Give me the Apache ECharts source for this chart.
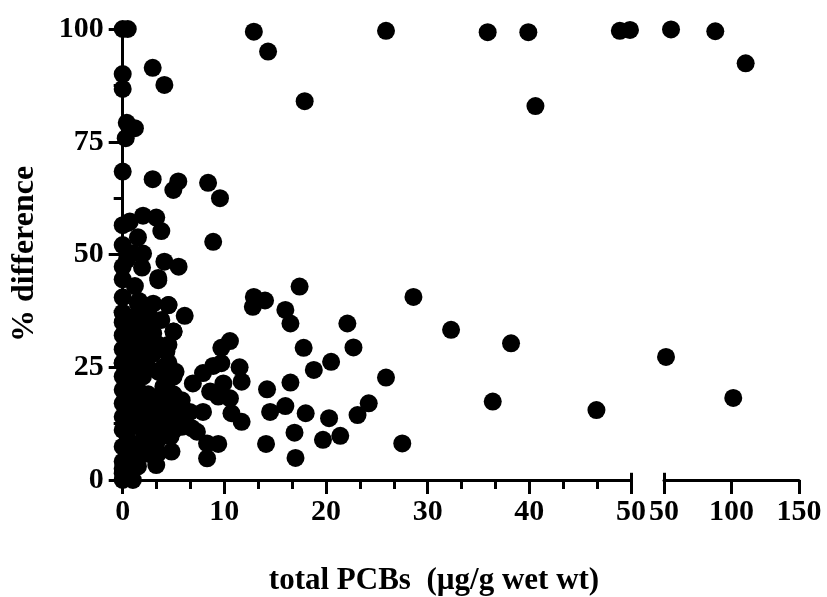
<!DOCTYPE html>
<html>
<head>
<meta charset="utf-8">
<script src="https://cdn.jsdelivr.net/npm/echarts@6/dist/echarts.min.js"></script>
<style>
html,body{margin:0;padding:0;background:#fff;}
#chart{width:827px;height:597px;}
</style>
</head>
<body>
<div id="chart"></div>
<script>
// ---- data: total PCBs (µg/g wet wt) vs % difference ----
// left axis segment (0–50)
var pcbLow = [
  0, 0.5, 12.9, 14.3, 25.9, 35.9, 39.9, 48.9, 49.9, 2.95, 4.1, 0, 0, 17.9, 40.6,
  0.4, 1.2, 0.3, 0, 2.95, 5.47, 4.98, 8.4, 9.57, 8.9, 17.4, 28.6, 12.9, 14.0,
  12.8, 16.0, 16.5, 22.1, 22.7, 17.8, 20.5, 18.8, 25.9, 16.5, 14.2, 16.0, 14.5,
  18.0, 20.3, 24.2, 23.1, 21.4, 19.7, 16.9, 17.0, 14.1, 27.5, 32.3, 38.2, 36.4,
  46.6, 10.55, 9.7, 11.5, 11.7, 9.7, 8.9, 7.9, 6.9, 9.9, 8.6, 9.4, 10.55, 7.9,
  10.7, 11.7, 6.8, 7.3, 8.3, 9.4, 8.3, 6.1, 5.0, 4.5, 4.8, 3.3, 3.5,
  0.7, 2.0, 3.3, 3.8, 1.5, 0, 2.0, 1.0, 0, 1.9, 4.1, 5.5, 3.5, 0, 0.4,
  0, 1.6, 3.0, 4.5, 0, 2.7, 5.0, 0, 3.0, 4.3, 0, 1.0, 5.0, 0, 4.3, 5.8, 6.6,
  0, 5.8, 4.7, 0, 2.4, 0, 0, 1.0,
  0, 0, 0, 0, 0, 0, 0, 0, 0,
  0.5, 0.5, 0.5, 0.5, 0.5, 0.5, 0.5, 0.5, 0.5, 0.5, 0.5, 0.5,
  1.0, 1.0, 1.0, 1.0, 1.0, 1.0, 1.0, 1.0, 1.0,
  1.5, 1.5, 1.5, 1.5, 1.5, 1.5, 1.5,
  2.0, 2.0, 2.0, 2.0, 2.0, 2.0, 2.0,
  2.5, 2.5, 2.5, 2.5, 2.5, 2.5, 2.5,
  3.0, 3.0, 3.0, 3.0, 3.0,
  3.5, 3.5, 3.5, 3.5, 3.5,
  4.0, 4.0, 4.0, 4.0,
  4.5, 4.5, 4.5, 4.5,
  5.0, 5.0, 5.5, 6.0,
  1.5, 3.5, 4.0, 5.0, 5.2, 4.5, 3.8, 1.2
];
var diffLow = [
  100, 100, 99.4, 95.0, 99.6, 99.3, 99.3, 99.6, 99.8, 91.4, 87.6, 86.7, 68.4, 84.0, 82.9,
  79.2, 78.0, 75.8, 90.0, 66.7, 66.2, 64.3, 65.9, 62.5, 52.8, 42.9, 40.6, 40.6, 39.8,
  38.4, 37.7, 34.7, 34.7, 29.4, 29.3, 26.2, 24.4, 22.7, 21.6, 20.1, 16.4, 15.1,
  14.8, 13.7, 17.0, 14.4, 9.8, 8.9, 10.5, 4.9, 8.0, 8.1, 33.3, 30.3, 17.4,
  15.5, 30.8, 29.3, 25.0, 21.8, 25.9, 25.3, 23.7, 21.4, 21.4, 19.6, 18.5, 18.1, 15.1,
  14.8, 12.9, 11.5, 10.7, 8.1, 8.0, 4.8, 36.4, 32.9, 38.8, 6.3, 3.3, 44.3,
  57.3, 58.6, 58.2, 55.2, 53.8, 52.1, 50.2, 50.3, 47.3, 47.1, 48.4, 47.3, 44.8, 44.5, 48.8,
  40.5, 39.7, 39.1, 38.8, 37.1, 34.6, 32.9, 32.1, 32.5, 28.5, 25.9, 29.6, 22.9, 20.0, 20.7, 17.7, 15.1,
  11.1, 11.8, 9.6, 7.4, 5.9, 4.1, 0, 0,
  14, 17, 23, 26, 29, 35, 1.5, 2.5, 56.5,
  1, 9, 13, 16, 19, 22, 25, 28, 31, 34, 50, 57,
  5, 12, 18, 21, 24, 27, 30, 33, 36,
  8, 15, 20, 26, 29, 35, 39,
  6, 11, 14, 17, 23, 27, 31,
  5.9, 10, 13, 19, 25, 33, 37,
  8, 12, 16, 28, 30,
  9, 14, 18, 24, 30,
  11, 16, 20.7, 25,
  13, 17, 22.9, 26,
  19, 15, 17.7, 14,
  3, 6, 13.5, 11, 24, 30, 35.5, 43
];
// right axis segment (50–150)
var pcbHigh = [51.5, 101.3, 55.2, 88.0, 110.5];
var diffHigh = [27.3, 18.2, 99.9, 99.5, 92.4];

// axis ticks
var yTicks = [0, 25, 50, 75, 100];
var xTicksLow = [0, 10, 20, 30, 40, 50];
var xTicksHigh = [50, 100, 150];

function pairs(xs, ys) {
  var out = [];
  for (var i = 0; i < xs.length; i++) out.push([xs[i], ys[i]]);
  return out;
}

var FONT = '"Liberation Serif", "Times New Roman", serif';
var labelStyle = {color: '#000', fontFamily: FONT, fontWeight: 'bold', fontSize: 30};
var lineStyle = {color: '#000', width: 3};
var yMin = yTicks[0], yMax = yTicks[yTicks.length - 1];
var xLowMin = xTicksLow[0], xLowMax = xTicksLow[xTicksLow.length - 1];

var chart = echarts.init(document.getElementById('chart'), null, {renderer: 'canvas'});
chart.setOption({
  animation: false,
  backgroundColor: '#fff',
  grid: [
    {left: 122.7, top: 29, width: 508.3, height: 451},
    {left: 664, top: 29, width: 135, height: 451}
  ],
  xAxis: [
    { // major ticks + labels, left segment
      type: 'value', gridIndex: 0, min: xLowMin, max: xLowMax, interval: 10, z: 3,
      axisLine: {show: true, lineStyle: lineStyle},
      axisTick: {show: true, length: 14, lineStyle: lineStyle},
      axisLabel: Object.assign({margin: 17}, labelStyle),
      splitLine: {show: false}
    },
    { // right segment
      type: 'value', gridIndex: 1, min: xTicksHigh[0], max: xTicksHigh[xTicksHigh.length - 1], interval: 50,
      axisLine: {show: true, lineStyle: lineStyle},
      axisTick: {show: true, length: 14, lineStyle: lineStyle},
      axisLabel: Object.assign({margin: 17}, labelStyle),
      splitLine: {show: false}
    },
    { // minor ticks, left segment
      type: 'value', gridIndex: 0, min: xLowMin, max: xLowMax, interval: 10 / 3, position: 'bottom',
      axisLine: {show: false},
      axisTick: {show: true, length: 9, lineStyle: lineStyle},
      axisLabel: {show: false},
      splitLine: {show: false}
    }
  ],
  yAxis: [
    {
      type: 'value', gridIndex: 0, min: yMin, max: yMax, interval: 25, z: 3,
      axisLine: {show: true, lineStyle: lineStyle},
      axisTick: {show: true, length: 14, lineStyle: lineStyle},
      axisLabel: Object.assign({margin: 19}, labelStyle),
      splitLine: {show: false}
    },
    {
      type: 'value', gridIndex: 1, min: yMin, max: yMax, interval: 25,
      axisLine: {show: false}, axisTick: {show: false}, axisLabel: {show: false},
      splitLine: {show: false}
    },
    { // minor ticks
      type: 'value', gridIndex: 0, min: yMin, max: yMax, interval: 12.5, position: 'left',
      axisLine: {show: false},
      axisTick: {show: true, length: 9, lineStyle: lineStyle},
      axisLabel: {show: false},
      splitLine: {show: false}
    }
  ],
  graphic: [
    {
      type: 'text', x: 434, y: 581,
      style: {text: 'total PCBs  (\u00b5g/g wet wt)', fill: '#000', fontFamily: FONT, fontWeight: 'bold',
              fontSize: 31, align: 'center', verticalAlign: 'middle'}
    },
    {
      type: 'text', x: 25, y: 254, rotation: Math.PI / 2,
      style: {text: '% difference', fill: '#000', fontFamily: FONT, fontWeight: 'bold',
              fontSize: 32, align: 'center', verticalAlign: 'middle'}
    }
  ],
  series: [
    {
      type: 'scatter', xAxisIndex: 0, yAxisIndex: 0, symbol: 'circle', symbolSize: 18, clip: false,
      itemStyle: {color: '#000', opacity: 1},
      data: pairs(pcbLow, diffLow),
      markLine: {
        silent: true, symbol: 'none', label: {show: false},
        lineStyle: {color: '#000', width: 3, type: 'solid'},
        data: [[{coord: [50, 0]}, {coord: [50, 1.6]}]]
      }
    },
    {
      type: 'scatter', xAxisIndex: 1, yAxisIndex: 1, symbol: 'circle', symbolSize: 18, clip: false,
      itemStyle: {color: '#000', opacity: 1},
      data: pairs(pcbHigh, diffHigh),
      markLine: {
        silent: true, symbol: 'none', label: {show: false},
        lineStyle: {color: '#000', width: 3, type: 'solid'},
        data: [[{coord: [50, 0]}, {coord: [50, 1.6]}]]
      }
    }
  ]
});
</script>
</body>
</html>
